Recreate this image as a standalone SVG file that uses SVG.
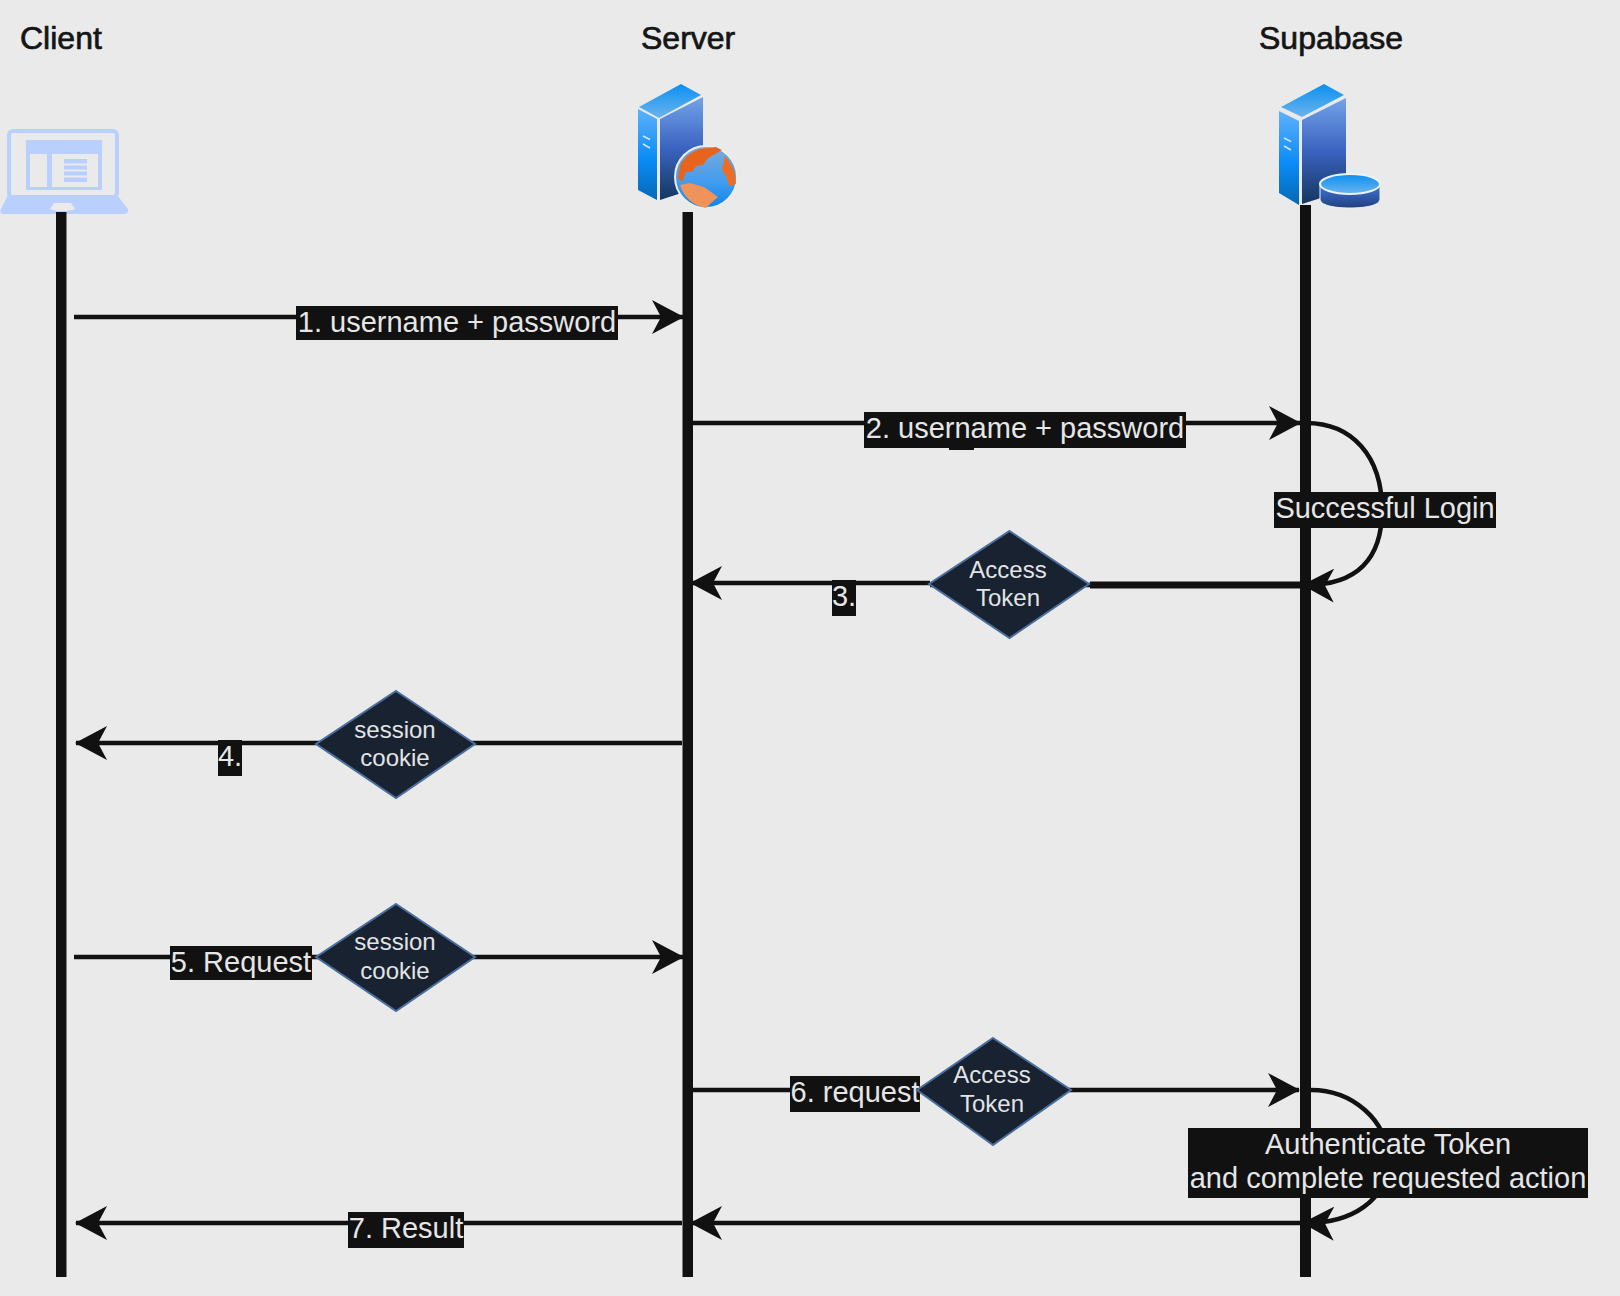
<svg xmlns="http://www.w3.org/2000/svg" width="1620" height="1296" viewBox="0 0 1620 1296">
<style>
text{font-family:"Liberation Sans",Arial,sans-serif}
.hd{font-size:32px;fill:#151515;stroke:#151515;stroke-width:.7}
.lab{font-size:29px;fill:#e6e6e6;text-anchor:middle}
.dt{font-size:24px;fill:#e2e4e6;text-anchor:middle}
.lb{fill:#111}
.ll{fill:#111}
.c{fill:none;stroke:#111;stroke-width:4.5}
.d{fill:#182230;stroke:#4a6f9e;stroke-width:2}
.s{fill:none;stroke:#b9d0ff;stroke-width:4}
.f{fill:#b9d0ff}
.p{fill:#eaeaea}
</style>
<defs>
<marker id="a" markerUnits="userSpaceOnUse" viewBox="0 0 32 34" refX="31" refY="17" markerWidth="32" markerHeight="34" orient="auto"><path d="M32 17L0 0L9 17L0 34Z" fill="#111"/></marker>
<linearGradient id="tp" x1="0" y1="0" x2="0" y2="1"><stop offset="0" stop-color="#0a90f2"/><stop offset="1" stop-color="#6cb4ec"/></linearGradient>
<linearGradient id="lf" x1="0" y1="0" x2="0" y2="1"><stop offset="0" stop-color="#5fb2fb"/><stop offset=".55" stop-color="#0a8cf8"/><stop offset="1" stop-color="#0568b4"/></linearGradient>
<linearGradient id="rt" x1="0" y1="0" x2="0" y2="1"><stop offset="0" stop-color="#74a3e8"/><stop offset=".5" stop-color="#3a63c0"/><stop offset="1" stop-color="#14375f"/></linearGradient>
<linearGradient id="gl" x1="0" y1="0" x2="0" y2="1"><stop offset="0" stop-color="#7fa9d8"/><stop offset=".6" stop-color="#3f9cf0"/><stop offset="1" stop-color="#0a85f0"/></linearGradient>
<linearGradient id="dk" x1="0" y1="0" x2="0" y2="1"><stop offset="0" stop-color="#3f78d8"/><stop offset="1" stop-color="#223f80"/></linearGradient>
</defs>
<rect width="1620" height="1296" fill="#eaeaea"/>

<g id="client">
<text class="hd" x="20" y="49">Client</text>
<rect class="s" x="9" y="131" width="108" height="66" rx="4"/>
<path class="f" d="M8 195H117L128 209Q129 214 124 214H4Q-1 214 1 209Z"/>
<path class="p" d="M54 203H71L75 209Q70 211 62 211T50 209Z"/>
<rect class="f" x="26" y="140" width="76" height="50"/>
<rect class="p" x="30" y="154" width="17" height="33"/>
<rect class="p" x="52" y="154" width="46" height="33"/>
<path class="f" d="M64 159h23v4.500h-23zM64 165.500h23v4h-23zM64 171.500h23v4h-23zM64 177.500h23v4.500h-23z"/>
<rect class="ll" x="56" y="212" width="10.500" height="1065"/>
</g>

<g id="server">
<text class="hd" x="641" y="49">Server</text>
<path d="M681 84L701 95L659 118L639 107Z" fill="url(#tp)"/>
<path d="M638 109L657 119V200L638 190Z" fill="url(#lf)"/>
<path d="M660 119L703 97V186L660 200Z" fill="url(#rt)"/>
<path d="M643 136l7 3.500M643 144l7 4" stroke="#cfe6ff" stroke-width="1.500" fill="none"/>
<circle cx="706" cy="177" r="31" fill="url(#gl)" stroke="#f0ece6" stroke-width="2"/>
<path d="M680 165Q688 152 700 149L716 147L722 150L708 158L703 165L696 166L692 172L686 172L682 182L678 178Z" fill="#e8641c"/>
<path d="M725 156Q736 168 736 184L729 186L726 176L722 170Z" fill="#ec6e24"/>
<path d="M680 185L690 183L704 187L718 197L710 204L706 208Q686 204 680 185Z" fill="#f0935a"/>
<rect class="ll" x="682.500" y="212" width="10.500" height="1065"/>
</g>

<g id="supabase">
<text class="hd" x="1259" y="49">Supabase</text>
<path d="M1324 84L1344 95L1302 117L1281 107Z" fill="url(#tp)"/>
<path d="M1279 111L1299 121V205L1279 193Z" fill="url(#lf)"/>
<path d="M1302 120L1346 98V190L1302 204Z" fill="url(#rt)"/>
<path d="M1284 138l7 3.500M1284 146l7 4" stroke="#cfe6ff" stroke-width="1.500" fill="none"/>
<path d="M1320 184V199C1320 205 1333 208 1350 208S1380 205 1380 199V184Z" fill="url(#dk)" stroke="#eef2f8" stroke-width="1"/>
<ellipse cx="1350" cy="184" rx="30" ry="10" fill="url(#tp)" stroke="#eef2f8" stroke-width="2"/>
<rect class="ll" x="1300" y="205" width="11" height="1072"/>
</g>

<g id="connectors">
<path class="c" d="M74 317H683" marker-end="url(#a)"/>
<path class="c" d="M692 423H1300" marker-end="url(#a)"/>
<path class="c" d="M1306 423C1352 423 1382 456 1382 510C1382 558 1358 586 1303 585" marker-end="url(#a)"/>
<path class="c" d="M1090 585H930"/>
<path class="c" style="stroke-width:7" d="M1305 585H1090"/>
<path class="c" d="M930 583H691" marker-end="url(#a)"/>
<path class="c" d="M682 743H76" marker-end="url(#a)"/>
<path class="c" d="M74 957H683" marker-end="url(#a)"/>
<path class="c" d="M692 1090H1299" marker-end="url(#a)"/>
<path class="c" d="M1311 1090C1352 1090 1388 1120 1388 1160C1388 1200 1352 1224 1303 1223" marker-end="url(#a)"/>
<path class="c" d="M682 1223H76" marker-end="url(#a)"/>
<path class="c" d="M1302 1223H691" marker-end="url(#a)"/>
<g id="labels">
<rect class="lb" x="296" y="306" width="322" height="34"/><text class="lab" x="457" y="332">1. username + password</text>
<rect class="lb" x="949" y="440" width="25" height="10"/>
<rect class="lb" x="864" y="412" width="322" height="36"/><text class="lab" x="1025" y="438">2. username + password</text>
<rect class="lb" x="1274" y="492" width="222" height="36"/><text class="lab" x="1385" y="518">Successful Login</text>
<rect class="lb" x="832" y="580" width="24" height="36"/><text class="lab" x="844" y="606">3.</text>
<rect class="lb" x="218" y="740" width="24" height="36"/><text class="lab" x="230" y="766">4.</text>
<rect class="lb" x="170" y="946" width="142" height="34"/><text class="lab" x="241" y="972">5. Request</text>
<rect class="lb" x="790" y="1076" width="130" height="36"/><text class="lab" x="855" y="1102">6. request</text>
<rect class="lb" x="348" y="1212" width="116" height="36"/><text class="lab" x="406" y="1238">7. Result</text>
<rect class="lb" x="1188" y="1128" width="400" height="70"/><text class="lab" x="1388" y="1154">Authenticate Token</text><text class="lab" x="1388" y="1188">and complete requested action</text>
</g>
</g>

<g id="access-token-1">
<path class="d" d="M1009.500 531L1089 584L1009.500 638L929 584Z"/>
<text class="dt" x="1008" y="578">Access</text><text class="dt" x="1008" y="606">Token</text>
</g>
<g id="session-cookie-1">
<path class="d" d="M396 691L475 744L396 798L316 744Z"/>
<text class="dt" x="395" y="738">session</text><text class="dt" x="395" y="766">cookie</text>
</g>
<g id="session-cookie-2">
<path class="d" d="M396 904L475 957L396 1011L316 957Z"/>
<text class="dt" x="395" y="950">session</text><text class="dt" x="395" y="979">cookie</text>
</g>
<g id="access-token-2">
<path class="d" d="M993 1038L1071 1090L993 1145L917 1090Z"/>
<text class="dt" x="992" y="1083">Access</text><text class="dt" x="992" y="1112">Token</text>
</g>
</svg>
